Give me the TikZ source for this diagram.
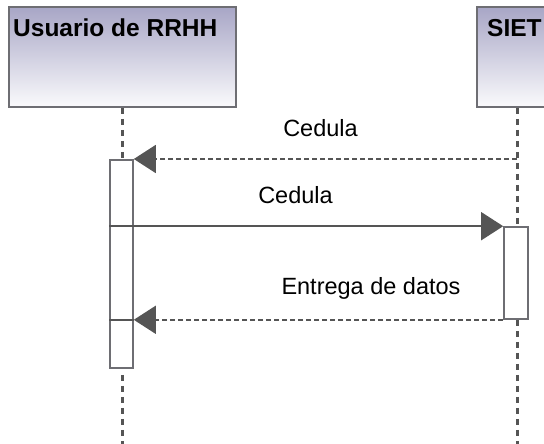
\documentclass[tikz,border=0pt]{standalone}
\usepackage{fontspec}
\setmainfont{Liberation Sans}
\usetikzlibrary{arrows.meta}
\definecolor{linegray}{RGB}{85,85,85}
\definecolor{boxgray}{RGB}{110,110,115}
\definecolor{headtop}{RGB}{168,166,198}
\definecolor{headbot}{RGB}{250,250,252}
\tikzset{
  head/.style={draw=boxgray, line width=1.6pt, top color=headtop, bottom color=headbot,
    minimum height=100pt, inner sep=0pt},
  headtext/.style={anchor=base west, inner sep=0pt, font=\fontsize{24.5}{24.5}\selectfont\bfseries},
  actbox/.style={draw=boxgray, line width=1.6pt, fill=white, inner sep=0pt},
  lifeline/.style={draw=linegray, line width=3pt, dash pattern=on 6pt off 5pt},
  msg/.style={draw=linegray, line width=1.6pt, -{Triangle[length=22pt,width=28pt,fill=linegray]}},
  ret/.style={msg, dash pattern=on 5pt off 3pt},
  lbl/.style={inner sep=0pt, font=\fontsize{23.5}{23.5}\selectfont}
}
\begin{document}
\begin{tikzpicture}[x=1pt,y=-1pt]
\useasboundingbox (0,0) rectangle (544,444);
\clip (0,0) rectangle (544,444);
% heads
\node[head, minimum width=227pt] (lhead) at (122.5,57) {};
\node[head, minimum width=80pt] (rhead) at (517,57) {};
\node[headtext] (ltxt) at (13,37) {Usuario de RRHH};
\node[headtext] (rtxt) at (487,37) {SIET};
% activations
\node[actbox, minimum width=23pt, minimum height=208pt] (lact) at (121.5,264) {};
\node[actbox, minimum width=24pt, minimum height=92pt] (ract) at (516,273) {};
% lifeline ends
\coordinate (lend) at (122,444);
\coordinate (rend) at (517,444);
\coordinate (m1s) at (517,159);
% lifelines
\draw[lifeline] (lhead.south -| lend) -- (lact.north -| lend);
\draw[lifeline] ([yshift=-6pt]lact.south -| lend) -- (lend);
\draw[lifeline] (rhead.south) -- (ract.north -| rend);
\draw[lifeline] (ract.south -| rend) -- (rend);
% messages
\draw[ret] (m1s) -- (m1s -| lact.east);
\draw[msg] (lact.west |- ract.north) -- (ract.north west);
\draw[ret] (ract.south west) -- (ract.south west -| lact.east);
\draw[draw=linegray, line width=1.6pt] (ract.south west -| lact.west) -- (ract.south west -| lact.east);
% labels
\node[lbl] (l1) at (320.5,128) {Cedula};
\node[lbl] (l2) at (295.5,195) {Cedula};
\node[lbl] (l3) at (371,288) {Entrega de datos};
\end{tikzpicture}
\end{document}
